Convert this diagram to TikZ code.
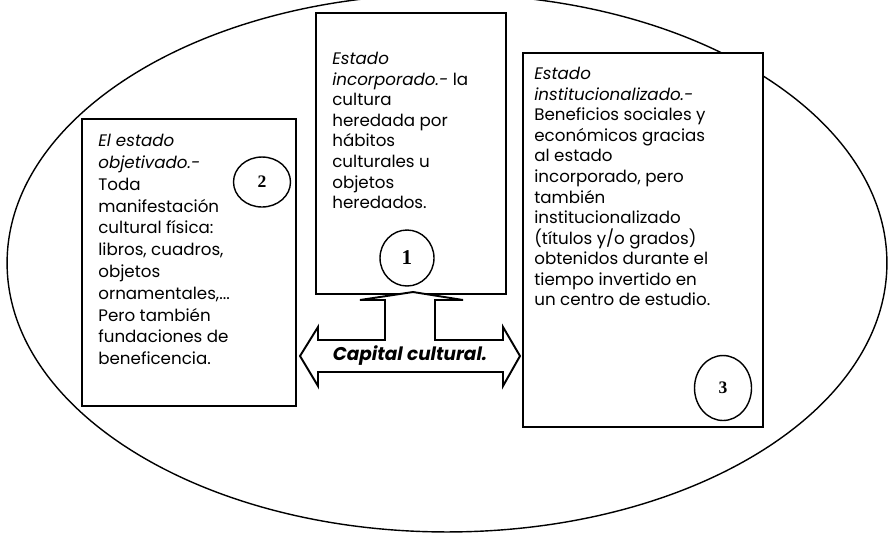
\documentclass[tikz,border=0pt]{standalone}
\usepackage{fontspec}
\setmainfont{Poppins}
\newfontfamily\numfont{Liberation Serif}
\usetikzlibrary{positioning}
\usetikzlibrary{shapes.geometric}

\tikzset{
	caja/.style={draw, line width=1.1pt, fill=white, rectangle, inner sep=0pt, anchor=north west},
	texto/.style={anchor=north west, align=left, inner sep=0pt, font=\fontsize{9.5}{11.7}\selectfont},
	numero/.style={draw, line width=0.8pt, ellipse, inner sep=0pt, font=\numfont\bfseries\fontsize{10}{10}\selectfont}
}

\begin{document}
\begin{tikzpicture}[x=0.02cm,y=-0.02cm]
	\useasboundingbox (0,0) rectangle (888,532);

	%Big ellipse
	\draw [line width=0.8pt] (447,263) ellipse [x radius=8.8cm, y radius=5.38cm];

	%Box 1 (top)
	\node [caja, minimum width=3.8cm, minimum height=5.62cm] (caja1) at (315,12) {};
	\node [texto, below right=0.8cm and 0.34cm of caja1.north west] (texto1)
	{\itshape Estado\\ \itshape incorporado.-\upshape{} la\\ cultura\\ heredada por\\ hábitos\\ culturales u\\ objetos\\ heredados.};
	\node [numero, minimum width=1.08cm, minimum height=1.12cm, font=\numfont\bfseries\fontsize{12}{12}\selectfont] (num1) at (407,258) {1};

	%Box 2 (left)
	\node [caja, minimum width=4.28cm, minimum height=5.74cm] (caja2) at (81,118) {};
	\node [texto, font=\fontsize{9.5}{12.4}\selectfont, below right=0.32cm and 0.34cm of caja2.north west] (texto2)
	{\itshape El estado\\ \itshape objetivado.-\\ Toda\\ manifestación\\ cultural física:\\ libros, cuadros,\\ objetos\\ ornamentales,...\\ Pero también\\ fundaciones de\\ beneficencia.};
	\node [numero, minimum width=1.14cm, minimum height=1.0cm] (num2) at (262,182) {2};

	%Box 3 (right)
	\node [caja, minimum width=4.8cm, minimum height=7.48cm] (caja3) at (522,52) {};
	\node [texto, below right=0.3cm and 0.24cm of caja3.north west] (texto3)
	{\itshape Estado\\ \itshape institucionalizado.-\\ Beneficios sociales y\\ económicos gracias\\ al estado\\ incorporado, pero\\ también\\ institucionalizado\\ (títulos y/o grados)\\ obtenidos durante el\\ tiempo invertido en\\ un centro de estudio.};
	\node [numero, minimum width=1.14cm, minimum height=1.3cm] (num3) at (723,388) {3};

	%Arrow Capital cultural
	\draw [line width=1.1pt, fill=white, line join=miter] (300,356) -- (318,327) -- (318,340) -- (385,340) -- (385,300) -- (360,300) -- (413,292) -- (463,300) -- (435,300) -- (435,340) -- (503,340) -- (503,327) -- (520,356) -- (503,386) -- (503,372) -- (318,372) -- (318,386) -- cycle;
	\node [font=\bfseries\itshape\fontsize{10.5}{12}\selectfont, inner sep=0pt] (capital) at (410,356) {Capital cultural.};
\end{tikzpicture}
\end{document}
